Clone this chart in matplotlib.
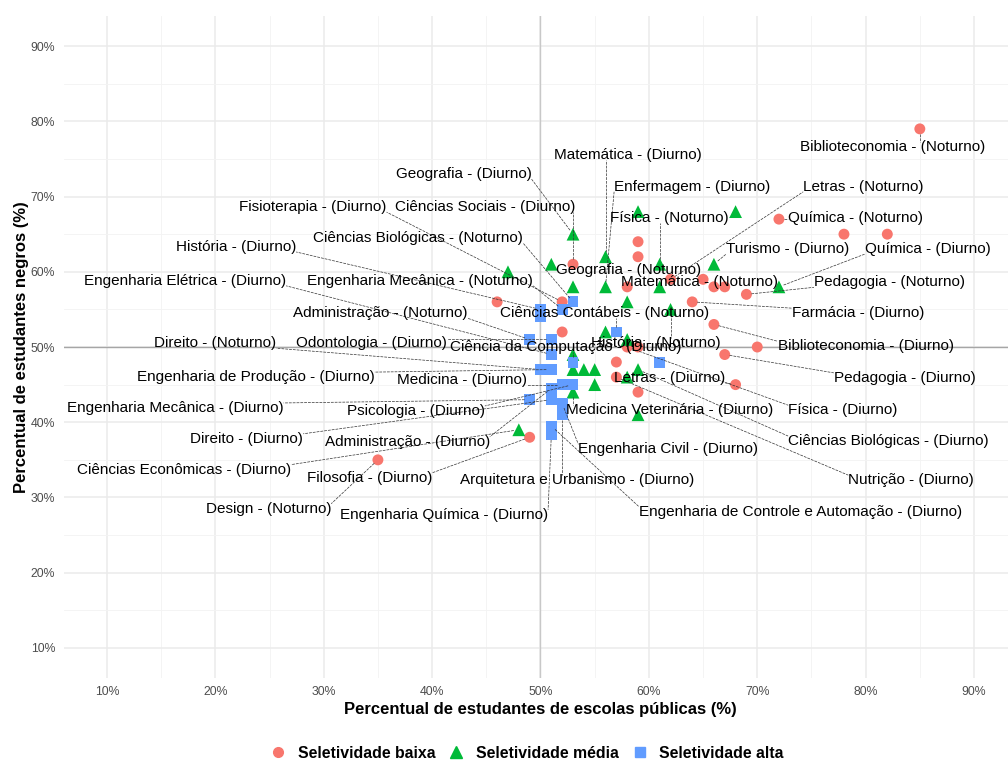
import numpy as np
import matplotlib
matplotlib.use('Agg')
import matplotlib.pyplot as plt
from matplotlib.lines import Line2D

plt.rcParams['font.family'] = ['Liberation Sans', 'DejaVu Sans']

# Seletividade baixa
baixa_x = [85, 72, 78, 82, 53, 59, 59, 58, 62, 65, 66, 67, 69, 64, 66, 70, 67, 57, 57, 59, 68, 58, 59, 46, 52, 52, 49, 35]
baixa_y = [79, 67, 65, 65, 61, 64, 62, 58, 59, 59, 58, 58, 57, 56, 53, 50, 49, 48, 46, 44, 45, 50, 50, 56, 56, 52, 38, 35]
baixa_nome = ['Biblioteconomia - (Noturno)', 'Química - (Noturno)', '', '',
              'Ciências Sociais - (Diurno)', '', 'Geografia - (Noturno)', '',
              'Letras - (Noturno)', '', '', 'Matemática - (Noturno)',
              'Pedagogia - (Noturno)', 'Farmácia - (Diurno)', 'Biblioteconomia - (Diurno)', '',
              'Pedagogia - (Diurno)', '', 'Nutrição - (Diurno)', '',
              'Letras - (Diurno)', 'Física - (Diurno)', '', '',
              'Fisioterapia - (Diurno)', '', 'Filosofia - (Diurno)', 'Design - (Noturno)']

# Seletividade média
media_x = [53, 59, 68, 56, 51, 47, 61, 66, 53, 56, 61, 72, 58, 62, 56, 58, 53, 53, 54, 55, 55, 53, 58, 59, 59, 48]
media_y = [65, 68, 68, 62, 61, 60, 61, 61, 58, 58, 58, 58, 56, 55, 52, 51, 49, 47, 47, 47, 45, 44, 46, 47, 41, 39]
media_nome = ['Geografia - (Diurno)', '', '', 'Matemática - (Diurno)', '', '',
              'Física - (Noturno)', 'Turismo - (Diurno)', '', 'Enfermagem - (Diurno)', '',
              'Química - (Diurno)', '', 'História - (Noturno)', '', '', '', '', '', '', '',
              'Medicina Veterinária - (Diurno)', '', 'Ciências Biológicas - (Diurno)', '',
              'Ciências Econômicas - (Diurno)']

# Seletividade alta
alta_x = [53, 50, 50, 52, 57, 49, 51, 51, 50, 51, 53, 61, 51, 51, 49, 52, 53, 52, 52, 51, 51]
alta_y = [56, 55, 54, 55, 52, 51, 51, 49, 47, 47, 48, 48, 44.5, 43, 43, 45, 45, 42.5, 41, 39.5, 38.3]
alta_nome = ['Ciências Biológicas - (Noturno)', 'História - (Diurno)', '',
             'Engenharia Mecânica - (Noturno)', 'Ciências Contábeis - (Noturno)',
             'Administração - (Noturno)', 'Odontologia - (Diurno)', 'Engenharia Elétrica - (Diurno)',
             'Direito - (Noturno)', 'Engenharia de Produção - (Diurno)',
             'Ciência da Computação - (Diurno)', '', 'Administração - (Diurno)',
             'Direito - (Diurno)', 'Engenharia Mecânica - (Diurno)', 'Medicina - (Diurno)',
             'Psicologia - (Diurno)', 'Engenharia Civil - (Diurno)',
             'Arquitetura e Urbanismo - (Diurno)',
             'Engenharia de Controle e Automação - (Diurno)', 'Engenharia Química - (Diurno)']

# posicao dos rotulos (como o ggrepel deixou)
label_pos = {
    'Biblioteconomia - (Noturno)': (82.5, 76.6),
    'Matemática - (Diurno)': (58.1, 75.5),
    'Geografia - (Diurno)': (42.9, 73.0),
    'Enfermagem - (Diurno)': (64.0, 71.3),
    'Letras - (Noturno)': (79.8, 71.3),
    'Fisioterapia - (Diurno)': (29.0, 68.6),
    'Ciências Sociais - (Diurno)': (44.9, 68.6),
    'Física - (Noturno)': (61.9, 67.1),
    'Química - (Noturno)': (79.1, 67.1),
    'Ciências Biológicas - (Noturno)': (38.7, 64.5),
    'História - (Diurno)': (21.9, 63.3),
    'Turismo - (Diurno)': (72.8, 63.0),
    'Química - (Diurno)': (85.7, 63.0),
    'Geografia - (Noturno)': (58.1, 60.2),
    'Engenharia Elétrica - (Diurno)': (17.2, 58.8),
    'Engenharia Mecânica - (Noturno)': (38.9, 58.8),
    'Matemática - (Noturno)': (64.7, 58.6),
    'Pedagogia - (Noturno)': (82.2, 58.6),
    'Farmácia - (Diurno)': (79.3, 54.5),
    'Administração - (Noturno)': (35.2, 54.5),
    'Ciências Contábeis - (Noturno)': (55.9, 54.5),
    'Direito - (Noturno)': (20.0, 50.5),
    'Odontologia - (Diurno)': (34.4, 50.5),
    'Ciência da Computação - (Diurno)': (52.3, 50.0),
    'História - (Noturno)': (60.6, 50.5),
    'Biblioteconomia - (Diurno)': (80.0, 50.1),
    'Engenharia de Produção - (Diurno)': (23.7, 46.0),
    'Medicina - (Diurno)': (42.8, 45.6),
    'Letras - (Diurno)': (61.9, 45.9),
    'Pedagogia - (Diurno)': (83.6, 45.9),
    'Engenharia Mecânica - (Diurno)': (16.3, 41.9),
    'Psicologia - (Diurno)': (38.5, 41.5),
    'Medicina Veterinária - (Diurno)': (61.9, 41.6),
    'Física - (Diurno)': (77.9, 41.6),
    'Direito - (Diurno)': (22.9, 37.8),
    'Administração - (Diurno)': (37.7, 37.4),
    'Ciências Biológicas - (Diurno)': (82.1, 37.5),
    'Engenharia Civil - (Diurno)': (61.8, 36.4),
    'Ciências Econômicas - (Diurno)': (17.1, 33.7),
    'Filosofia - (Diurno)': (34.2, 32.6),
    'Arquitetura e Urbanismo - (Diurno)': (53.4, 32.3),
    'Nutrição - (Diurno)': (84.2, 32.3),
    'Design - (Noturno)': (24.9, 28.5),
    'Engenharia Química - (Diurno)': (41.1, 27.7),
    'Engenharia de Controle e Automação - (Diurno)': (74.0, 28.1),
}

cores = {'baixa': '#F8766D', 'media': '#00BA38', 'alta': '#619CFF'}

fig = plt.figure(figsize=(10.08, 7.6), dpi=100)
ax = fig.add_axes([0.0631, 0.1079, 0.9462, 0.871])

# tema minimal
for s in ax.spines.values():
    s.set_visible(False)
ax.set_xticks(np.arange(10, 91, 10))
ax.set_yticks(np.arange(10, 91, 10))
ax.set_xticks(np.arange(5, 95, 10), minor=True)
ax.set_yticks(np.arange(5, 95, 10), minor=True)
ax.set_xticklabels([f'{v}%' for v in range(10, 91, 10)])
ax.set_yticklabels([f'{v}%' for v in range(10, 91, 10)])
# limites depois dos ticks (set_xticks expande a vista)
ax.set_xlim(6, 94)
ax.set_ylim(6, 94)
ax.tick_params(which='both', length=0, labelsize=8.8, labelcolor='#4D4D4D')
ax.tick_params(axis='x', pad=6)
ax.tick_params(axis='y', pad=6)
ax.grid(which='major', color='#EBEBEB', lw=1.1, zorder=0)
ax.grid(which='minor', color='#F3F3F3', lw=0.6, zorder=0)
ax.set_axisbelow(True)

ax.axhline(50, color='#A6A6A6', lw=1.0, zorder=1)
ax.axvline(50, color='#C8C8C8', lw=1.0, zorder=1)

ax.scatter(baixa_x, baixa_y, s=62, marker='o', color=cores['baixa'], edgecolors='none', zorder=2)
ax.scatter(media_x, media_y, s=85, marker='^', color=cores['media'], edgecolors='none', zorder=2)
ax.scatter(alta_x, alta_y, s=62, marker='s', color=cores['alta'], edgecolors='none', zorder=2)

ax.set_xlabel('Percentual de estudantes de escolas públicas (%)', fontsize=12, fontweight='bold', labelpad=3)
ax.set_ylabel('Percentual de estudantes negros (%)', fontsize=12, fontweight='bold', labelpad=1)

# rotulos
pontos = []
for xs, ys, ns in [(baixa_x, baixa_y, baixa_nome), (media_x, media_y, media_nome), (alta_x, alta_y, alta_nome)]:
    for x, y, n in zip(xs, ys, ns):
        if n:
            pontos.append((x, y, n))

textos = []
for x, y, n in pontos:
    lx, ly = label_pos[n]
    t = ax.text(lx, ly, n, fontsize=11, ha='center', va='center', color='black', zorder=4)
    textos.append((x, y, t))

fig.canvas.draw()
r = fig.canvas.get_renderer()
inv = ax.transData.inverted()
for x, y, t in textos:
    bb = t.get_window_extent(renderer=r)
    px, py = ax.transData.transform((x, y))
    cx = min(max(px, bb.x0), bb.x1)
    cy = min(max(py, bb.y0 + 2), bb.y1 - 2)
    d = np.hypot(cx - px, cy - py)
    if d < 9:
        continue
    # afasta um pouco do ponto
    sx = px + (cx - px) * 5 / d
    sy = py + (cy - py) * 5 / d
    p0 = inv.transform((sx, sy))
    p1 = inv.transform((cx, cy))
    ax.plot([p0[0], p1[0]], [p0[1], p1[1]], color='#333333', lw=0.5,
            ls=(0, (4, 1.5)), zorder=3)

# legenda
handles = [
    Line2D([], [], marker='o', ls='', color=cores['baixa'], markersize=7, label='Seletividade baixa'),
    Line2D([], [], marker='^', ls='', color=cores['media'], markersize=8, label='Seletividade média'),
    Line2D([], [], marker='s', ls='', color=cores['alta'], markersize=6.5, label='Seletividade alta'),
]
fig.legend(handles=handles, loc='center', bbox_to_anchor=(0.523, 0.009), ncol=3,
           frameon=False, prop={'weight': 'bold', 'size': 11.4}, handlelength=1.0,
           handletextpad=0.75, columnspacing=0.8, borderaxespad=0)

fig.savefig('out.png', dpi=100)
